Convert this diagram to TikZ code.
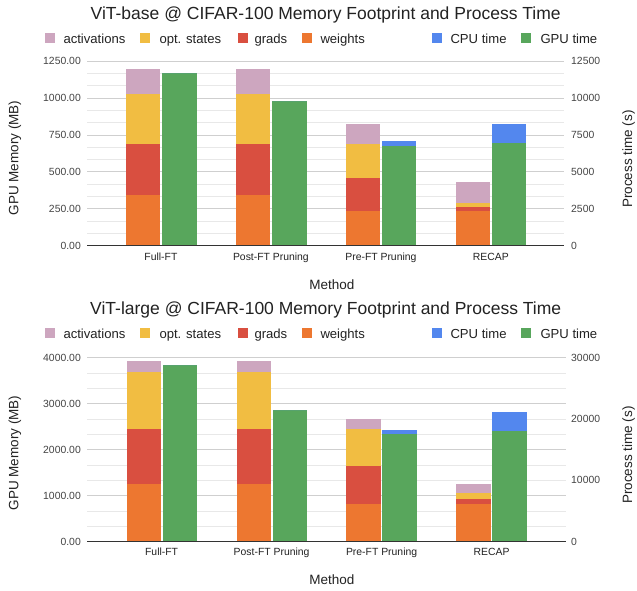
\documentclass[tikz,border=0pt]{standalone}
\usepackage{fontspec}
\setmainfont{Liberation Sans}
\definecolor{cact}{HTML}{CDA6BF}
\definecolor{copt}{HTML}{F1BD42}
\definecolor{cgrad}{HTML}{D94F40}
\definecolor{cw}{HTML}{ED7730}
\definecolor{ccpu}{HTML}{5387EE}
\definecolor{cgpu}{HTML}{58A65C}
\definecolor{gmaj}{HTML}{CFCFCF}
\definecolor{gmin}{HTML}{E8E8E8}
\definecolor{axisc}{HTML}{333333}
\definecolor{txt}{HTML}{222222}
\definecolor{ticktxt}{HTML}{444444}
\newcommand{\MemBar}[7]{%
  \fill[cw] (#1,#2) rectangle ({#1+34.4},{#2-#3*#4});
  \fill[cgrad] (#1,{#2-#3*#4}) rectangle ({#1+34.4},{#2-#3*#5});
  \fill[copt] (#1,{#2-#3*#5}) rectangle ({#1+34.4},{#2-#3*#6});
  \fill[cact] (#1,{#2-#3*#6}) rectangle ({#1+34.4},{#2-#3*#7});
}
% time values given in hundreds of seconds
\newcommand{\TimeBar}[5]{%
  \fill[cgpu] (#1,#2) rectangle ({#1+34.4},{#2-#3*#4});
  \fill[ccpu] (#1,{#2-#3*#4}) rectangle ({#1+34.4},{#2-#3*#5});
}
\newcommand{\GridLines}[6]{%
  \foreach \i in {1,...,#3}{%
    \pgfmathsetmacro\yy{#1-\i*#2/#3}
    \pgfmathtruncatemacro\mm{mod(\i,#4)}
    \ifnum\mm=0
      \draw[gmaj,line width=0.9pt] (#5,\yy) -- (#6,\yy);
    \else
      \draw[gmin,line width=0.9pt] (#5,\yy) -- (#6,\yy);
    \fi
  }
}
\tikzset{
  ticklbl/.style={font=\fontsize{10.4}{12}\selectfont, text=ticktxt, inner sep=0pt},
  catlbl/.style={font=\fontsize{10.4}{12}\selectfont, text=txt, inner sep=0pt, anchor=base},
  titlelbl/.style={font=\fontsize{17.5}{20}\selectfont, text=txt, inner sep=0pt, anchor=base},
  leglbl/.style={font=\fontsize{13.1}{15}\selectfont, text=txt, inner sep=0pt, anchor=base west},
  axlbl/.style={font=\fontsize{13.5}{16}\selectfont, text=txt, inner sep=0pt},
  legsq/.style={minimum size=10pt, inner sep=0pt, anchor=south west},
}
\begin{document}
\begin{tikzpicture}[x=1pt,y=-1pt]
\useasboundingbox (0,0) rectangle (637,590);
\fill[white] (0,0) rectangle (637,590);

% ================= TOP CHART =================
\node[titlelbl] (t1) at (325.7,19) {ViT-base @ CIFAR-100 Memory Footprint and Process Time};
% legend
\foreach \nm/\cx/\tx/\col/\txt in {a/45/63.3/cact/activations, o/140/159.3/copt/opt. states, g/238/254.3/cgrad/grads, w/301.7/320.3/cw/weights, c/432/450.3/ccpu/CPU time, p/521/540.3/cgpu/GPU time}{
  \node[legsq, fill=\col] (t1sq\nm) at (\cx,43.3) {};
  \node[leglbl] (t1lg\nm) at (\tx,43.3) {\txt};
}
\GridLines{245.7}{184.4}{15}{3}{87}{564}
% bars
\MemBar{125.8}{245.7}{0.14752}{343}{687}{1030}{1198}
\TimeBar{162.2}{245.7}{1.4752}{116.86}{116.86}
\MemBar{235.8}{245.7}{0.14752}{343}{687}{1030}{1198}
\TimeBar{272.2}{245.7}{1.4752}{98.30}{98.30}
\MemBar{345.5}{245.7}{0.14752}{235}{459}{689}{825}
\TimeBar{381.5}{245.7}{1.4752}{67.80}{70.77}
\MemBar{455.5}{245.7}{0.14752}{235}{264}{289}{434}
\TimeBar{491.5}{245.7}{1.4752}{69.41}{82.50}
\draw[axisc,line width=1pt] (87,245.7) -- (564,245.7);
% ticks
\foreach \k/\lv/\rv in {0/0.00/0, 1/250.00/2500, 2/500.00/5000, 3/750.00/7500, 4/1000.00/10000, 5/1250.00/12500}{
  \node[ticklbl, anchor=east] (t1l\k) at (81,{245.7-\k*36.88}) {\lv};
  \node[ticklbl, anchor=west] (t1r\k) at (571,{245.7-\k*36.88}) {\rv};
}
\foreach \k/\cat in {0/Full-FT, 1/Post-FT Pruning, 2/Pre-FT Pruning, 3/RECAP}{
  \node[catlbl] (t1c\k) at ({160.9+110*\k},260.5) {\cat};
}
\node[axlbl, anchor=base] (t1x) at (331.9,289.5) {Method};
\node[axlbl, rotate=90] (t1y) at (15,158) {GPU Memory (MB)};
\node[axlbl, rotate=90] (t1y2) at (628.7,159) {Process time (s)};

% ================= BOTTOM CHART =================
\node[titlelbl] (t2) at (325.7,314.3) {ViT-large @ CIFAR-100 Memory Footprint and Process Time};
\foreach \nm/\cx/\tx/\col/\txt in {a/45/63.3/cact/activations, o/140/159.3/copt/opt. states, g/238/254.3/cgrad/grads, w/301.7/320.3/cw/weights, c/432/450.3/ccpu/CPU time, p/521/540.3/cgpu/GPU time}{
  \node[legsq, fill=\col] (t2sq\nm) at (\cx,338.3) {};
  \node[leglbl] (t2lg\nm) at (\tx,338.3) {\txt};
}
\GridLines{541.7}{184}{12}{3}{87}{566}
\MemBar{126.6}{541.7}{0.046}{1248}{2457}{3683}{3928}
\TimeBar{162.6}{541.7}{0.61333}{287.50}{287.50}
\MemBar{236.6}{541.7}{0.046}{1248}{2457}{3683}{3928}
\TimeBar{272.6}{541.7}{0.61333}{214.20}{214.20}
\MemBar{346.2}{541.7}{0.046}{820}{1645}{2457}{2660}
\TimeBar{382.2}{541.7}{0.61333}{175.00}{182.00}
\MemBar{456.2}{541.7}{0.046}{820}{935}{1052}{1261}
\TimeBar{492.2}{541.7}{0.61333}{180.00}{210.90}
\draw[axisc,line width=1pt] (87,541.7) -- (566,541.7);
\foreach \k/\lv in {0/0.00, 1/1000.00, 2/2000.00, 3/3000.00, 4/4000.00}{
  \node[ticklbl, anchor=east] (t2l\k) at (81,{541.7-\k*46}) {\lv};
}
\foreach \k/\rv in {0/0, 1/10000, 2/20000, 3/30000}{
  \node[ticklbl, anchor=west] (t2r\k) at (571,{541.7-\k*61.333}) {\rv};
}
\foreach \k/\cat in {0/Full-FT, 1/Post-FT Pruning, 2/Pre-FT Pruning, 3/RECAP}{
  \node[catlbl] (t2c\k) at ({161.6+110*\k},555.5) {\cat};
}
\node[axlbl, anchor=base] (t2x) at (331.9,584.5) {Method};
\node[axlbl, rotate=90] (t2yl) at (15,453) {GPU Memory (MB)};
\node[axlbl, rotate=90] (t2yr) at (628.7,455) {Process time (s)};
\end{tikzpicture}
\end{document}
